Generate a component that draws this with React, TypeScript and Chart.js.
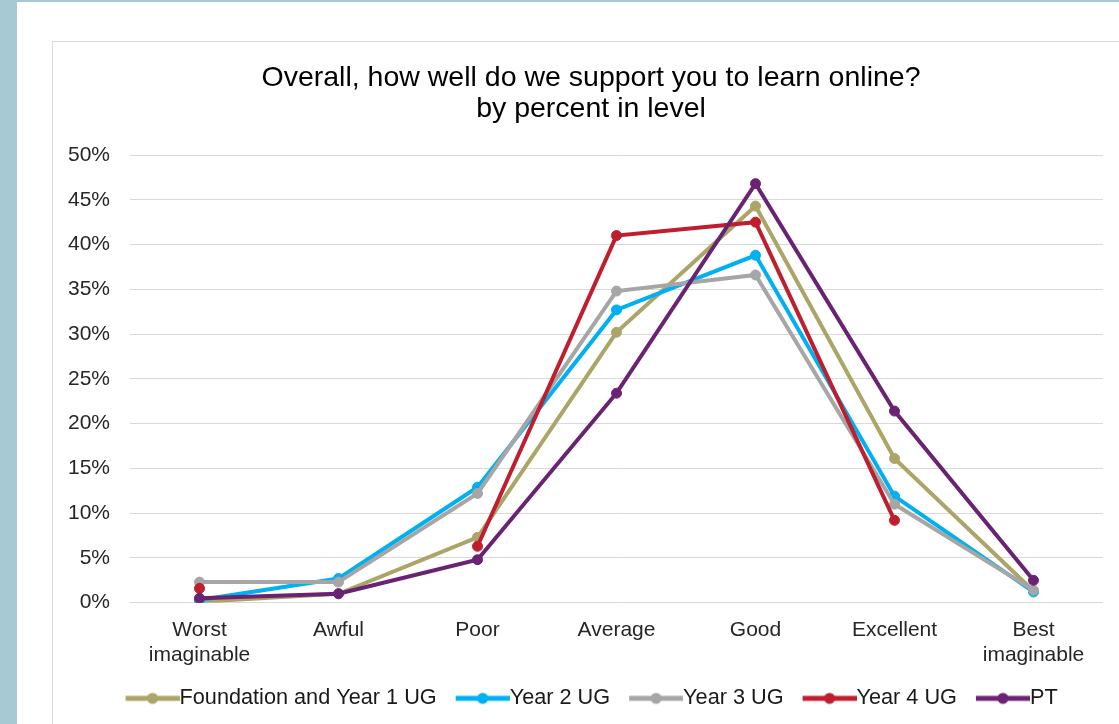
import React, { useEffect, useRef } from 'react';
import { Chart, registerables } from 'chart.js';

Chart.register(...registerables);

const categories: (string | string[])[] = [
  ['Worst', 'imaginable'],
  'Awful',
  'Poor',
  'Average',
  'Good',
  'Excellent',
  ['Best', 'imaginable'],
];
const seriesNames = ['Foundation and Year 1 UG', 'Year 2 UG', 'Year 3 UG', 'Year 4 UG', 'PT'];
const seriesColors = ['#ACA568', '#00B0F0', '#A6A6A6', '#BF1E2E', '#6A2272'];
const foundationY1 = [0.1, 1.0, 7.3, 30.2, 44.3, 16.1, 1.3];
const year2 = [0.3, 2.7, 12.9, 32.7, 38.8, 11.9, 1.2];
const year3 = [2.3, 2.3, 12.2, 34.8, 36.6, 11.0, 1.4];
const year4 = [1.6, null, 6.3, 41.0, 42.5, 9.2, null];
const pt = [0.5, 1.0, 4.8, 23.4, 46.8, 21.4, 2.5];
const seriesValues = [foundationY1, year2, year3, year4, pt];
const yMin = 0;
const yMax = 50;
const yStep = 5;
const titleLines = ['Overall, how well do we support you to learn online?', 'by percent in level'];

const FONT = '"Liberation Sans", Arial, sans-serif';
const TICK_SIZE = 21;
const LEGEND_SIZE = 21.7;

function makeLegendImg(color: string, w: number, margin: number): HTMLCanvasElement {
  const c = document.createElement('canvas');
  c.width = w;
  c.height = 16;
  const ctx = c.getContext('2d')!;
  ctx.strokeStyle = color;
  ctx.lineWidth = 5;
  ctx.beginPath();
  ctx.moveTo(margin, 8);
  ctx.lineTo(w, 8);
  ctx.stroke();
  ctx.fillStyle = color;
  ctx.beginPath();
  ctx.arc(margin + (w - margin) / 2, 8, 5.5, 0, Math.PI * 2);
  ctx.fill();
  return c;
}

export default function App() {
  const ref = useRef<HTMLCanvasElement | null>(null);

  useEffect(() => {
    if (!ref.current) return;
    const half = LEGEND_SIZE / 2;
    const margin = 12;
    const imgW = 54 + margin;
    const boxW = imgW - 2 * half;
    const imgs = seriesColors.map((c) => makeLegendImg(c, imgW, margin));

    const chart = new Chart(ref.current, {
      type: 'line',
      data: {
        labels: categories,
        datasets: seriesNames.map((name, i) => ({
          label: name,
          data: seriesValues[i],
          borderColor: seriesColors[i],
          backgroundColor: seriesColors[i],
          pointBackgroundColor: seriesColors[i],
          pointBorderColor: seriesColors[i],
          borderWidth: 4,
          pointRadius: 5,
          pointBorderWidth: 1,
          tension: 0,
          fill: false,
          spanGaps: false,
          order: seriesNames.length - i,
        })),
      },
      options: {
        animation: false,
        responsive: true,
        maintainAspectRatio: false,
        layout: { padding: { left: 0, right: 0, top: 0, bottom: 4.8 } },
        plugins: {
          tooltip: { enabled: false },
          title: {
            display: true,
            text: titleLines,
            color: '#000000',
            font: { family: FONT, size: 28.5, weight: 'normal', lineHeight: 1.1 },
            padding: { top: 20, bottom: 30.3 },
          },
          legend: {
            display: true,
            position: 'bottom',
            labels: {
              usePointStyle: true,
              pointStyleWidth: boxW,
              padding: 17.8,
              color: '#1A1A1A',
              font: { family: FONT, size: LEGEND_SIZE },
              generateLabels: (ch: any) =>
                ch.data.datasets.map((ds: any, i: number) => ({
                  text: ds.label,
                  fillStyle: ds.borderColor,
                  strokeStyle: ds.borderColor,
                  lineWidth: 0,
                  pointStyle: imgs[i],
                  hidden: false,
                  datasetIndex: i,
                  fontColor: '#1A1A1A',
                })),
            },
          },
        },
        scales: {
          x: {
            type: 'category',
            offset: true,
            grid: { display: false, drawTicks: false },
            border: { display: false },
            ticks: {
              color: '#262626',
              font: { family: FONT, size: TICK_SIZE },
              padding: 15,
              maxRotation: 0,
              autoSkip: false,
            },
            afterFit: (s: any) => {
              s.height = 67;
            },
          },
          y: {
            min: yMin,
            max: yMax,
            grid: { color: '#D9D9D9', lineWidth: 1, drawTicks: false },
            border: { display: false },
            ticks: {
              stepSize: yStep,
              color: '#262626',
              font: { family: FONT, size: TICK_SIZE },
              padding: 20,
              callback: (v: any) => `${v}%`,
            },
            afterFit: (s: any) => {
              s.width = 77;
            },
          },
          yRight: {
            position: 'right',
            display: true,
            grid: { display: false, drawTicks: false },
            border: { display: false },
            ticks: { display: false },
            afterFit: (s: any) => {
              s.width = 26;
            },
          },
        },
      } as any,
    });
    return () => chart.destroy();
  }, []);

  return (
    <div
      style={{
        position: 'fixed',
        left: 0,
        top: 0,
        width: 1119,
        height: 724,
        overflow: 'hidden',
        background: '#A6C9D3',
      }}
    >
      <div style={{ position: 'absolute', left: 17, top: 2, right: 0, bottom: 0, background: '#FFFFFF' }} />
      <div
        style={{
          position: 'absolute',
          left: 52,
          top: 41,
          width: 1100,
          height: 720,
          borderLeft: '1px solid #D9D9D9',
          borderTop: '1px solid #D9D9D9',
        }}
      />
      <div style={{ position: 'absolute', left: 53, top: 42, width: 1076, height: 682 }}>
        <canvas ref={ref} />
      </div>
    </div>
  );
}
